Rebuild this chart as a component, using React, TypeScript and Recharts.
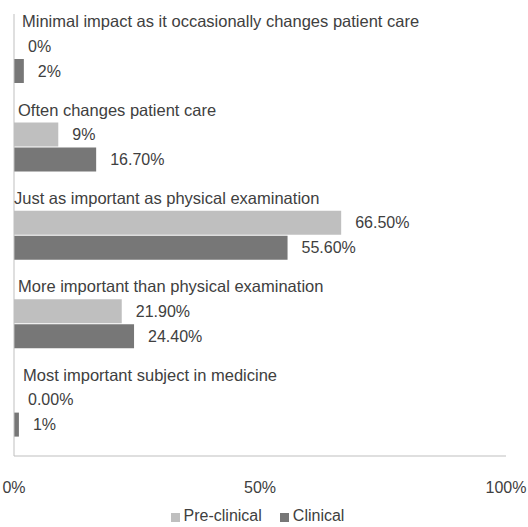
import React from "react";
import { BarChart, Bar, XAxis, YAxis, Legend, LabelList } from "recharts";

// Survey answers, listed top to bottom
const categories = [
  "Minimal impact as it occasionally changes patient care",
  "Often changes patient care",
  "Just as important as physical examination",
  "More important than physical examination",
  "Most important subject in medicine",
];

// Percent of respondents per group
const preClinical = [0, 9, 66.5, 21.9, 0];
const clinical = [2, 16.7, 55.6, 24.4, 1];

// Decimal places shown in each value label
const preClinicalDecimals = [0, 0, 2, 2, 2];
const clinicalDecimals = [0, 2, 2, 2, 0];

const xTicks = [0, 50, 100];

const PRE_COLOR = "#bfbfbf";
const CLIN_COLOR = "#777777";
const TEXT_COLOR = "#404040";
const AXIS_COLOR = "#bfbfbf";
const FONT = "'Liberation Sans', Arial, sans-serif";

// Horizontal indent of each category caption
const captionX = [22, 18, 14, 18, 23];

const fmt = (v: number, d: number) => `${v.toFixed(d)}%`;

const data = categories.map((category, i) => ({
  category,
  pre: preClinical[i],
  clin: clinical[i],
  preLabel: fmt(preClinical[i], preClinicalDecimals[i]),
  clinLabel: fmt(clinical[i], clinicalDecimals[i]),
}));

const CategoryCaption = (props: any) => {
  const { y, payload, index } = props;
  return (
    <text
      x={captionX[index] ?? 18}
      y={y - 31}
      fill={TEXT_COLOR}
      fontSize={16.5}
      fontFamily={FONT}
      textAnchor="start"
    >
      {payload.value}
    </text>
  );
};

const legendFormatter = (value: string, entry: any) => (
  <span
    style={{
      color: TEXT_COLOR,
      fontSize: 16,
      fontFamily: FONT,
      marginRight: entry && entry.dataKey === "pre" ? 8 : 0,
    }}
  >
    {value}
  </span>
);

const legendOrder = (item: any) => (item.dataKey === "pre" ? 0 : 1);

export default function App() {
  return (
    <div style={{ position: "absolute", left: 0, top: 0, background: "#fff" }}>
      <BarChart
        width={528}
        height={527}
        data={data}
        layout="vertical"
        margin={{ top: 14, right: 22, left: 13, bottom: 0 }}
        barSize={24}
        barGap={1}
      >
        <XAxis
          type="number"
          domain={[0, 100]}
          ticks={xTicks}
          tickFormatter={(v: number) => `${v}%`}
          axisLine={{ stroke: AXIS_COLOR }}
          tickLine={false}
          tickSize={0}
          tickMargin={26}
          height={51}
          tick={{ fill: TEXT_COLOR, fontSize: 16, fontFamily: FONT }}
          interval={0}
        />
        <YAxis
          type="category"
          dataKey="category"
          width={1}
          axisLine={{ stroke: AXIS_COLOR }}
          tickLine={false}
          tick={<CategoryCaption />}
          interval={0}
        />
        <Legend
          verticalAlign="bottom"
          align="center"
          iconType="square"
          iconSize={9}
          height={20}
          formatter={legendFormatter}
          itemSorter={legendOrder}
          wrapperStyle={{ lineHeight: "18px", paddingLeft: 3 }}
        />
        <Bar
          dataKey="pre"
          name="Pre-clinical"
          fill={PRE_COLOR}
          minPointSize={0.01}
          isAnimationActive={false}
        >
          <LabelList
            dataKey="preLabel"
            position="right"
            offset={14}
            fill={TEXT_COLOR}
            fontSize={16}
            fontFamily={FONT}
          />
        </Bar>
        <Bar
          dataKey="clin"
          name="Clinical"
          fill={CLIN_COLOR}
          minPointSize={0.01}
          isAnimationActive={false}
        >
          <LabelList
            dataKey="clinLabel"
            position="right"
            offset={14}
            fill={TEXT_COLOR}
            fontSize={16}
            fontFamily={FONT}
          />
        </Bar>
      </BarChart>
    </div>
  );
}
